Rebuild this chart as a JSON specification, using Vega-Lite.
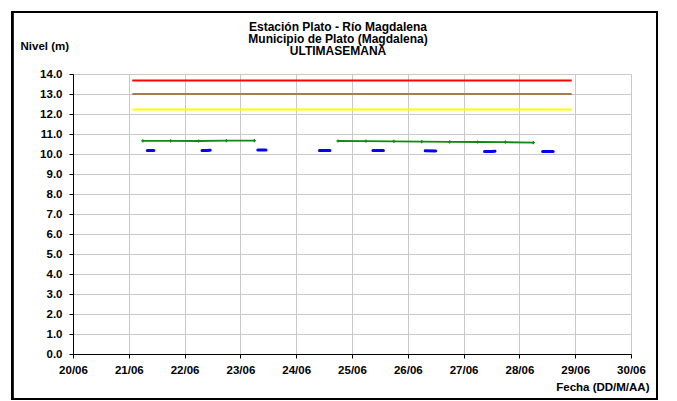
{
  "$schema": "https://vega.github.io/schema/vega-lite/v6.json",
  "width": 558,
  "height": 280,
  "autosize": "none",
  "padding": {"left": 73, "top": 74, "right": 46, "bottom": 47},
  "background": "white",
  "title": {
    "text": ["Estación Plato - Río Magdalena", "Municipio de Plato (Magdalena)", "ULTIMASEMANA"],
    "anchor": "middle",
    "baseline": "top",
    "dx": -14,
    "offset": -47,
    "font": "Liberation Sans",
    "fontSize": 12,
    "fontWeight": "bold",
    "lineHeight": 12,
    "color": "black"
  },
  "config": {
    "view": {"stroke": null},
    "axis": {
      "labelFont": "Liberation Sans",
      "labelFontSize": 11.5,
      "labelFontWeight": "bold",
      "labelColor": "black",
      "labelOverlap": false,
      "titleFont": "Liberation Sans",
      "titleFontSize": 11.5,
      "titleFontWeight": "bold",
      "titleColor": "black",
      "domainColor": "black",
      "domainWidth": 1,
      "tickColor": "black",
      "tickSize": 4,
      "gridColor": "#c8c8c8",
      "gridWidth": 1
    }
  },
  "data": {
    "values": [
      {"serie": "Roja", "tramo": "roja", "fecha": "2014-06-21T01:30:00", "nivel": 13.67},
      {"serie": "Roja", "tramo": "roja", "fecha": "2014-06-28T22:30:00", "nivel": 13.67},
      {"serie": "Naranja", "tramo": "naranja", "fecha": "2014-06-21T01:30:00", "nivel": 13.0},
      {"serie": "Naranja", "tramo": "naranja", "fecha": "2014-06-28T22:30:00", "nivel": 13.0},
      {"serie": "Amarilla", "tramo": "amarilla", "fecha": "2014-06-21T01:30:00", "nivel": 12.22},
      {"serie": "Amarilla", "tramo": "amarilla", "fecha": "2014-06-28T22:30:00", "nivel": 12.22},

      {"serie": "Observado", "tramo": "o1", "fecha": "2014-06-21T06:00:00", "nivel": 10.66},
      {"serie": "Observado", "tramo": "o1", "fecha": "2014-06-21T18:00:00", "nivel": 10.66},
      {"serie": "Observado", "tramo": "o1", "fecha": "2014-06-22T06:00:00", "nivel": 10.65},
      {"serie": "Observado", "tramo": "o1", "fecha": "2014-06-22T18:00:00", "nivel": 10.67},
      {"serie": "Observado", "tramo": "o1", "fecha": "2014-06-23T06:00:00", "nivel": 10.67},
      {"serie": "Observado", "tramo": "o2", "fecha": "2014-06-24T18:00:00", "nivel": 10.65},
      {"serie": "Observado", "tramo": "o2", "fecha": "2014-06-25T06:00:00", "nivel": 10.64},
      {"serie": "Observado", "tramo": "o2", "fecha": "2014-06-25T18:00:00", "nivel": 10.63},
      {"serie": "Observado", "tramo": "o2", "fecha": "2014-06-26T06:00:00", "nivel": 10.62},
      {"serie": "Observado", "tramo": "o2", "fecha": "2014-06-26T18:00:00", "nivel": 10.61},
      {"serie": "Observado", "tramo": "o2", "fecha": "2014-06-27T06:00:00", "nivel": 10.6},
      {"serie": "Observado", "tramo": "o2", "fecha": "2014-06-27T18:00:00", "nivel": 10.59},
      {"serie": "Observado", "tramo": "o2", "fecha": "2014-06-28T06:00:00", "nivel": 10.57},

      {"serie": "Sensor", "tramo": "b1", "fecha": "2014-06-21T08:00:00", "nivel": 10.17},
      {"serie": "Sensor", "tramo": "b1", "fecha": "2014-06-21T10:45:00", "nivel": 10.17},
      {"serie": "Sensor", "tramo": "b2", "fecha": "2014-06-22T07:30:00", "nivel": 10.17},
      {"serie": "Sensor", "tramo": "b2", "fecha": "2014-06-22T09:30:00", "nivel": 10.18},
      {"serie": "Sensor", "tramo": "b2", "fecha": "2014-06-22T11:00:00", "nivel": 10.19},
      {"serie": "Sensor", "tramo": "b3", "fecha": "2014-06-23T07:30:00", "nivel": 10.2},
      {"serie": "Sensor", "tramo": "b3", "fecha": "2014-06-23T11:00:00", "nivel": 10.2},
      {"serie": "Sensor", "tramo": "b4", "fecha": "2014-06-24T10:00:00", "nivel": 10.17},
      {"serie": "Sensor", "tramo": "b4", "fecha": "2014-06-24T12:00:00", "nivel": 10.18},
      {"serie": "Sensor", "tramo": "b4", "fecha": "2014-06-24T14:30:00", "nivel": 10.17},
      {"serie": "Sensor", "tramo": "b5", "fecha": "2014-06-25T09:00:00", "nivel": 10.17},
      {"serie": "Sensor", "tramo": "b5", "fecha": "2014-06-25T13:30:00", "nivel": 10.17},
      {"serie": "Sensor", "tramo": "b6", "fecha": "2014-06-26T07:30:00", "nivel": 10.16},
      {"serie": "Sensor", "tramo": "b6", "fecha": "2014-06-26T12:00:00", "nivel": 10.15},
      {"serie": "Sensor", "tramo": "b7", "fecha": "2014-06-27T09:00:00", "nivel": 10.12},
      {"serie": "Sensor", "tramo": "b7", "fecha": "2014-06-27T12:00:00", "nivel": 10.12},
      {"serie": "Sensor", "tramo": "b7", "fecha": "2014-06-27T13:30:00", "nivel": 10.14},
      {"serie": "Sensor", "tramo": "b8", "fecha": "2014-06-28T10:00:00", "nivel": 10.12},
      {"serie": "Sensor", "tramo": "b8", "fecha": "2014-06-28T14:30:00", "nivel": 10.12}
    ]
  },
  "encoding": {
    "x": {
      "field": "fecha",
      "type": "temporal",
      "scale": {
        "domain": [
          {"year": 2014, "month": 6, "date": 20},
          {"year": 2014, "month": 6, "date": 30}
        ],
        "nice": false
      },
      "axis": {
        "format": "%d/%m",
        "tickCount": {"interval": "day", "step": 1},
        "labelFlush": false,
        "labelBound": false,
        "labelPadding": 6,
        "title": "Fecha (DD/M/AA)",
        "titleAnchor": null,
        "titleAlign": "right",
        "titleBaseline": "alphabetic",
        "titleX": 576,
        "titleY": 36
      }
    },
    "y": {
      "field": "nivel",
      "type": "quantitative",
      "scale": {"domain": [0, 14], "nice": false, "zero": true},
      "axis": {
        "values": [0, 1, 2, 3, 4, 5, 6, 7, 8, 9, 10, 11, 12, 13, 14],
        "tickCount": 20,
        "format": ".1f",
        "labelPadding": 7,
        "title": "Nivel (m)",
        "titleAngle": 0,
        "titleAlign": "left",
        "titleBaseline": "alphabetic",
        "titleX": -53,
        "titleY": -25
      }
    }
  },
  "layer": [
    {
      "transform": [{"filter": "datum.serie == 'Roja' || datum.serie == 'Naranja' || datum.serie == 'Amarilla'"}],
      "mark": {"type": "line", "strokeWidth": 2},
      "encoding": {
        "color": {
          "field": "serie",
          "type": "nominal",
          "scale": {
            "domain": ["Roja", "Naranja", "Amarilla"],
            "range": ["#ff0000", "#a87b4f", "#ffff00"]
          },
          "legend": null
        },
        "detail": {"field": "tramo"}
      }
    },
    {
      "transform": [{"filter": "datum.serie == 'Observado'"}],
      "mark": {"type": "line", "color": "#118a11", "strokeWidth": 1.8},
      "encoding": {
        "detail": {"field": "tramo"}
      }
    },
    {
      "transform": [{"filter": "datum.serie == 'Observado'"}],
      "mark": {"type": "point", "shape": "cross", "filled": true, "color": "#118a11", "size": 10, "opacity": 1},
      "encoding": {}
    },
    {
      "transform": [{"filter": "datum.serie == 'Sensor'"}],
      "mark": {"type": "line", "color": "#0000ff", "strokeWidth": 3, "strokeCap": "round"},
      "encoding": {
        "detail": {"field": "tramo"}
      }
    },
    {
      "mark": {"type": "rect", "fill": null, "fillOpacity": 0, "stroke": "black", "strokeWidth": 2},
      "encoding": {
        "x": {"datum": {"year": 2014, "month": 6, "date": 18, "hours": 21, "minutes": 47}, "type": "temporal"},
        "x2": {"datum": {"year": 2014, "month": 6, "date": 30, "hours": 11, "minutes": 11}},
        "y": {"datum": 17.1, "type": "quantitative"},
        "y2": {"datum": -2.25}
      }
    }
  ]
}
